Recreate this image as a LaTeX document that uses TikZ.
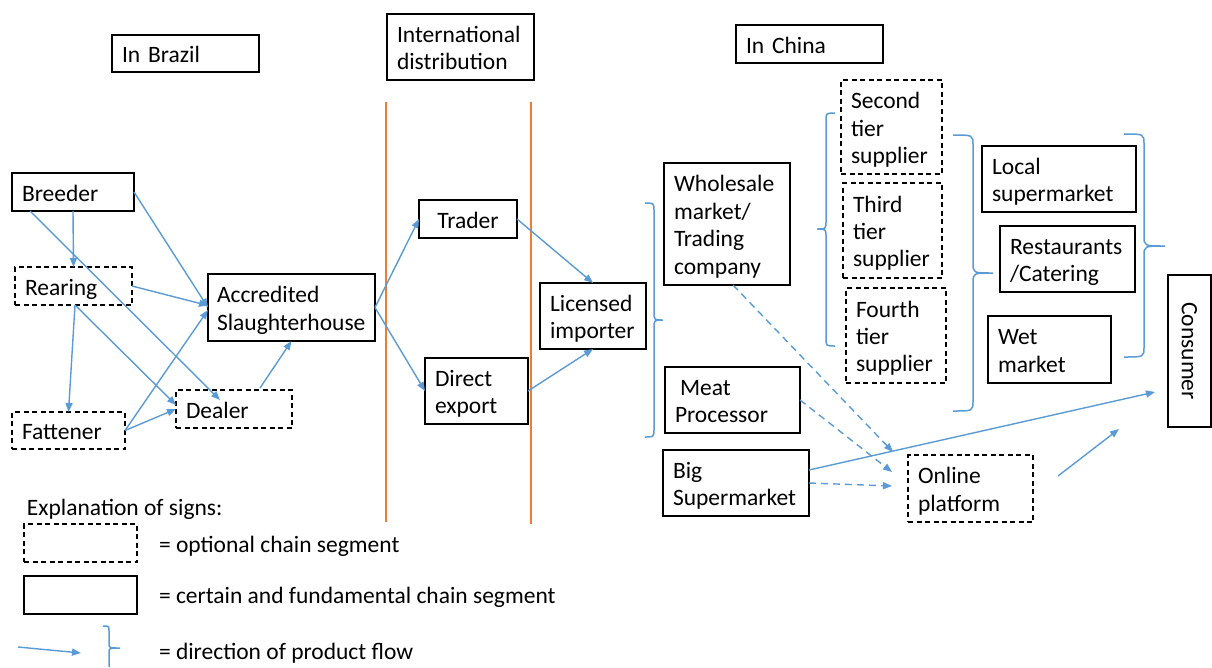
\documentclass[tikz,border=0pt]{standalone}
\usepackage{fontspec}
\setmainfont{Carlito}
\usetikzlibrary{arrows.meta}
\definecolor{flowblue}{HTML}{5B9BD5}
\definecolor{borderorange}{HTML}{ED7D31}
\begin{document}
\begin{tikzpicture}[x=1pt,y=1pt,
  font=\fontsize{23.5pt}{27.4pt}\selectfont,
  frame/.style={draw=black, line width=1.4pt, inner xsep=10pt, inner ysep=0pt, outer sep=0pt, align=left},
  solidbox/.style={frame, execute at begin node={\rule{0pt}{24pt}}, execute at end node={\rule[-6pt]{0pt}{6pt}}},
  dashbox/.style={solidbox, dash pattern=on 5pt off 3.5pt},
  emptydash/.style={frame, dash pattern=on 5pt off 3.5pt},
  flow/.style={draw=flowblue, line width=1.4pt, -{Triangle[length=9pt,width=7pt]}},
  dflow/.style={flow, dash pattern=on 7pt off 5pt},
  bracestyle/.style={draw=flowblue, line width=1.5pt},
  sep/.style={draw=borderorange, line width=1.5pt},
  lbl/.style={anchor=west, inner sep=0pt, outer sep=0pt}
]
\useasboundingbox (0,0) rectangle (1212,-667);

% region headers
\node[solidbox, text width=127pt, minimum height=37pt] (brazil) at (185.5,-53.5) {In Brazil};
\node[solidbox, text width=127pt, minimum height=66pt] (intl) at (460.5,-47) {International\\distribution};
\node[solidbox, text width=127pt, minimum height=38pt] (china) at (809.5,-44) {In China};

% separators
\draw[sep] (386,-102) -- (386,-522);
\draw[sep] (531,-102) -- (531,-524);

% Brazil
\node[solidbox, text width=102pt, minimum height=38pt] (breeder) at (73,-192) {Breeder};
\node[dashbox, text width=97pt, minimum height=38pt] (rearing) at (73.5,-286) {Rearing};
\node[dashbox, text width=93pt, minimum height=37pt] (fattener) at (68.5,-430.5) {Fattener};
\node[dashbox, text width=96pt, minimum height=38pt] (dealer) at (234,-409) {Dealer};
\node[solidbox, inner xsep=9pt, text width=149pt, minimum height=67pt] (slaughter) at (291.5,-307.5) {Accredited\\Slaughterhouse};

% international
\node[solidbox, text width=78pt, minimum height=38pt, align=center] (trader) at (468,-219) {Trader};
\node[solidbox, text width=83pt, minimum height=66pt] (direct) at (476.5,-391) {Direct\\export};
\node[solidbox, text width=86pt, minimum height=66pt] (licensed) at (593,-316) {Licensed\\importer};

% China
\node[solidbox, text width=106pt, minimum height=122pt] (wholesale) at (727,-224) {Wholesale\\market/\\Trading\\company};
\node[solidbox, text width=115pt, minimum height=66pt] (meat) at (732.5,-400) {\hspace*{5pt}Meat\\Processor};
\node[solidbox, text width=126pt, minimum height=66pt] (bigsuper) at (736,-483) {Big\\Supermarket};
\node[dashbox, text width=81pt, minimum height=94pt] (second) at (891.5,-127) {Second\\tier\\supplier};
\node[dashbox, text width=79pt, minimum height=95pt] (third) at (892.5,-230.5) {Third\\tier\\supplier};
\node[dashbox, text width=80pt, minimum height=95pt] (fourth) at (896,-335.5) {Fourth\\tier\\supplier};
\node[solidbox, text width=134pt, minimum height=66pt] (local) at (1059,-179) {Local\\supermarket};
\node[solidbox, text width=115pt, minimum height=66pt] (restaurants) at (1067.5,-259) {Restaurants\\/Catering};
\node[solidbox, text width=103pt, minimum height=67pt] (wet) at (1049.5,-349.5) {Wet\\market};
\node[frame, inner sep=0pt, minimum width=43pt, minimum height=152pt, align=center] (consumer) at (1189.5,-351) {\rotatebox{-90}{Consumer}};
\node[dashbox, text width=105pt, minimum height=67pt] (online) at (970.5,-488.5) {Online\\platform};

% Brazil flows
\draw[flow] (breeder.south) -- (rearing.north);
\draw[flow] ([xshift=-43pt]breeder.south) -- ([xshift=-14pt,yshift=-10pt]dealer.north);
\draw[flow] (breeder.east) -- (slaughter.west);
\draw[flow] (rearing.east) -- ([yshift=2pt]slaughter.west);
\draw[flow] ([xshift=1.5pt]rearing.south) -- (fattener.north);
\draw[flow] ([xshift=1.5pt]rearing.south) -- ([yshift=4pt]dealer.west);
\draw[flow] (fattener.east) -- ([yshift=-2.5pt]slaughter.west);
\draw[flow] (fattener.east) -- (dealer.west);
\draw[flow] ([xshift=26pt,yshift=2pt]dealer.north) -- (slaughter.south);

% international flows
\draw[flow] (slaughter.east) -- (trader.west);
\draw[flow] (slaughter.east) -- (direct.west);
\draw[flow] (trader.east) -- (licensed.north);
\draw[flow] (direct.east) -- (licensed.south);

% China flows
\draw[dflow] ([xshift=6pt]wholesale.south) -- ([xshift=-15pt,yshift=3pt]online.north west);
\draw[dflow] (meat.east) -- ([xshift=-16pt,yshift=16.5pt]online.west);
\draw[dflow] (bigsuper.east) -- ([xshift=-16pt,yshift=2.5pt]online.west);
\draw[flow] ([yshift=13pt]bigsuper.east) -- ([xshift=-13pt,yshift=35pt]consumer.south west);
\draw[flow] ([xshift=25pt,yshift=12.5pt]online.east) -- ([xshift=-49pt,yshift=-2pt]consumer.south west);

% braces
\draw[bracestyle] (645,-203) .. controls (654,-203) .. (654,-211) -- (654,-312) .. controls (654,-320) .. (663,-320) .. controls (654,-320) .. (654,-328) -- (654,-429) .. controls (654,-437) .. (645,-437);
\draw[bracestyle] (835,-113) .. controls (826,-113) .. (826,-121) -- (826,-221) .. controls (826,-229) .. (817,-229) .. controls (826,-229) .. (826,-237) -- (826,-338) .. controls (826,-346) .. (835,-346);
\draw[bracestyle] (953,-135) .. controls (973,-135) .. (973,-145) -- (973,-263) .. controls (973,-273) .. (993,-273) .. controls (973,-273) .. (973,-283) -- (973,-401) .. controls (973,-411) .. (953,-411);
\draw[bracestyle] (1124,-134) .. controls (1144,-134) .. (1144,-144) -- (1144,-236) .. controls (1144,-246) .. (1165,-246) .. controls (1144,-246) .. (1144,-256) -- (1144,-347) .. controls (1144,-357) .. (1124,-357);

% legend
\node[lbl] (expl) at (27,-509) {Explanation of signs:};
\node[emptydash, minimum width=113pt, minimum height=38pt] (legdash) at (80.5,-543) {};
\node[frame, minimum width=113pt, minimum height=38pt] (legsolid) at (80.5,-595) {};
\node[lbl] (legt1) at (159,-546.5) {= optional chain segment};
\node[lbl] (legt2) at (159,-597.5) {= certain and fundamental chain segment};
\node[lbl] (legt3) at (159,-653) {= direction of product flow};
\coordinate (la1) at (18,-647);
\coordinate (la2) at (81,-653);
\draw[flow] (la1) -- (la2);
\draw[bracestyle] (103,-626) .. controls (109,-626) .. (109,-631) -- (109,-643) .. controls (109,-648) .. (120,-648) .. controls (109,-648) .. (109,-653) -- (109,-667);
\end{tikzpicture}
\end{document}
